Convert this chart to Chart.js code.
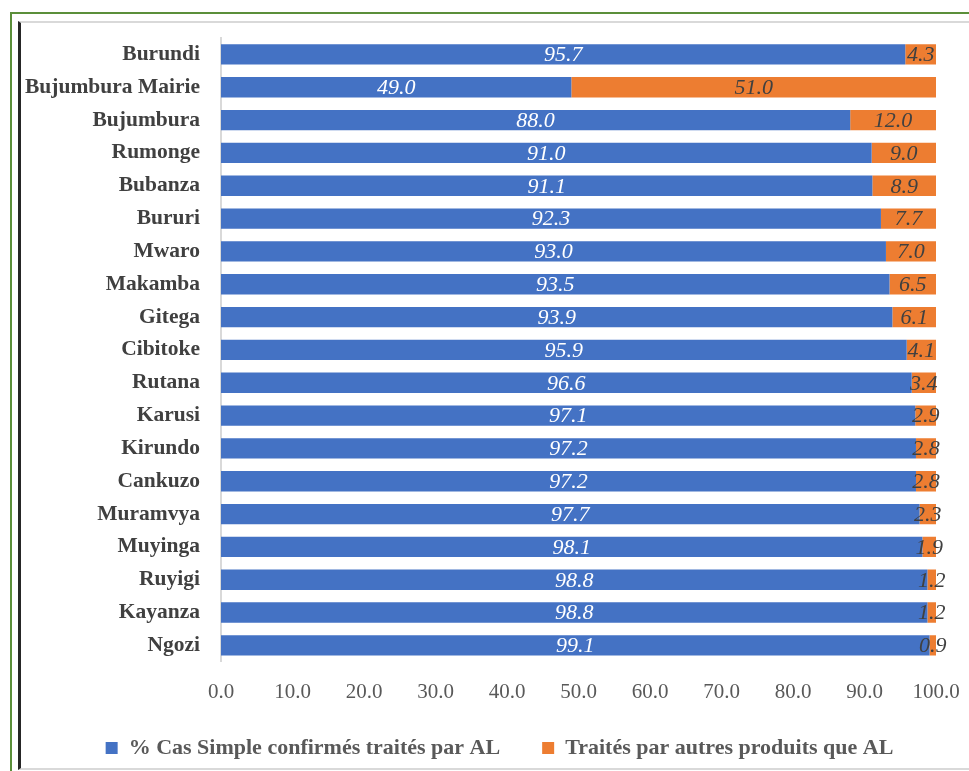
<!DOCTYPE html>
<html>
<head>
<meta charset="utf-8">
<script src="https://cdn.jsdelivr.net/npm/chart.js@4/dist/chart.umd.min.js"></script>
<style>
  html, body { margin: 0; padding: 0; background: #fff; }
  body { width: 969px; height: 771px; position: relative; overflow: hidden; }
  .outer {
    position: absolute; left: 10px; top: 12px; width: 980px; height: 780px;
    border-top: 2px solid #5b8f3a; border-left: 2px solid #5b8f3a;
  }
  .inner {
    position: absolute; left: 18px; top: 21px; width: 960px; height: 745px;
    border-top: 2px solid #d9d9d9; border-bottom: 2px solid #d9d9d9;
    border-left: 3px solid #262626; background: #fff;
  }
  .wrap { position: absolute; left: 21px; top: 23px; width: 948px; height: 745px; }
</style>
</head>
<body>
<div class="outer"></div>
<div class="inner"></div>
<div class="wrap"><canvas id="chart"></canvas></div>
<script>
// Provinces, top to bottom
const provinces = ['Burundi', 'Bujumbura Mairie', 'Bujumbura', 'Rumonge', 'Bubanza', 'Bururi',
  'Mwaro', 'Makamba', 'Gitega', 'Cibitoke', 'Rutana', 'Karusi', 'Kirundo', 'Cankuzo',
  'Muramvya', 'Muyinga', 'Ruyigi', 'Kayanza', 'Ngozi']

// % treated with AL
const traitesAL = [95.7, 49.0, 88.0, 91.0, 91.1, 92.3, 93.0, 93.5, 93.9, 95.9, 96.6, 97.1,
  97.2, 97.2, 97.7, 98.1, 98.8, 98.8, 99.1]

// % treated with other products
const autresProduits = [4.3, 51.0, 12.0, 9.0, 8.9, 7.7, 7.0, 6.5, 6.1, 4.1, 3.4, 2.9,
  2.8, 2.8, 2.3, 1.9, 1.2, 1.2, 0.9]

const xTicks = [0, 10, 20, 30, 40, 50, 60, 70, 80, 90, 100]

const serif = "'Liberation Serif', 'DejaVu Serif', serif"

// Draw the value in the middle of each bar segment
const barLabels = {
  id: 'barLabels',
  afterDatasetsDraw(chart) {
    const ctx = chart.ctx
    ctx.save()
    ctx.font = 'italic 22px ' + serif
    ctx.textAlign = 'center'
    ctx.textBaseline = 'middle'
    chart.data.datasets.forEach((ds, i) => {
      const meta = chart.getDatasetMeta(i)
      meta.data.forEach((bar, j) => {
        const cx = (bar.x + bar.base) / 2
        ctx.fillStyle = i === 0 ? '#ffffff' : '#404040'
        ctx.fillText(ds.data[j].toFixed(1), cx, bar.y + 1)
      })
    })
    ctx.restore()
  }
}

// Nudge the legend: centred under the whole frame and pulled back up into view
const legendShift = {
  id: 'legendShift',
  afterLayout(chart) {
    const lg = chart.legend
    lg.left += 21
    lg.right += 21
    lg.top -= 28
    lg.bottom -= 28
  }
}

new Chart(document.getElementById('chart'), {
  type: 'bar',
  data: {
    labels: provinces,
    datasets: [
      {
        label: '% Cas Simple confirmés traités par AL',
        data: traitesAL,
        backgroundColor: '#4472C4',
        categoryPercentage: 0.62,
        barPercentage: 1
      },
      {
        label: 'Traités par autres produits que AL',
        data: autresProduits,
        backgroundColor: '#ED7D31',
        categoryPercentage: 0.62,
        barPercentage: 1
      }
    ]
  },
  options: {
    indexAxis: 'y',
    responsive: true,
    maintainAspectRatio: false,
    animation: false,
    layout: { padding: { top: 15, right: 33, bottom: -29, left: 0 } },
    scales: {
      x: {
        stacked: true,
        min: 0,
        max: 100,
        afterBuildTicks: axis => { axis.ticks = xTicks.map(v => ({ value: v })) },
        afterFit: axis => {
          axis.paddingLeft = 0
          axis.paddingRight = 0
        },
        grid: { display: false, drawTicks: false },
        border: { display: false },
        ticks: {
          autoSkip: false,
          maxRotation: 0,
          padding: 18,
          color: '#595959',
          font: { family: serif, size: 21 },
          callback: v => v.toFixed(1)
        }
      },
      y: {
        stacked: true,
        afterFit: axis => {
          axis.width = 200
          axis.paddingTop = 0
          axis.paddingBottom = 0
        },
        grid: { display: false, drawTicks: false },
        border: { display: true, color: '#d9d9d9', width: 2 },
        ticks: {
          autoSkip: false,
          padding: 21,
          color: '#404040',
          font: { family: serif, size: 21.5, weight: 'bold' }
        }
      }
    },
    plugins: {
      legend: {
        position: 'bottom',
        labels: {
          boxWidth: 12,
          boxHeight: 12,
          padding: 42,
          color: '#595959',
          font: { family: serif, size: 22, weight: 'bold' }
        }
      },
      tooltip: { enabled: false }
    }
  },
  plugins: [barLabels, legendShift]
})
</script>
</body>
</html>
